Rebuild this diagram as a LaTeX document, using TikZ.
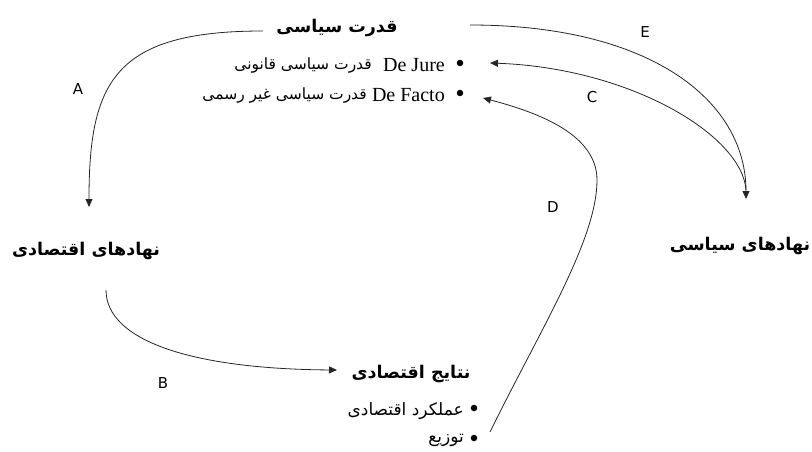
\documentclass[tikz,border=0pt]{standalone}
\usepackage{fontspec}
\setmainfont{Liberation Serif}
\newfontfamily\fa[Script=Arabic]{DejaVu Sans}
\newfontfamily\lab{DejaVu Sans}
\TeXXeTstate=1
\usetikzlibrary{arrows.meta}
\begin{document}
\begin{tikzpicture}[x=1pt,y=-1pt,
  title/.style={inner sep=0pt,font=\fa\bfseries\fontsize{17.5}{20}\selectfont},
  item/.style={inner sep=0pt,anchor=east,font=\fa\fontsize{15.5}{18}\selectfont},
  subitem/.style={inner sep=0pt,anchor=east,font=\fa\fontsize{17}{19}\selectfont},
  latin/.style={inner sep=0pt,font=\fontsize{20}{22}\selectfont},
  dot/.style={circle,fill=black,inner sep=0pt,minimum size=6.5pt},
  letter/.style={inner sep=0pt,font=\lab\fontsize{15}{17}\selectfont},
  arr/.style={draw=black!85,line width=0.8pt,-{Triangle[length=8pt,width=7pt]}},
  conn/.style={draw=black!85,line width=0.8pt}]
\useasboundingbox (0,0) rectangle (812,452);
% main nodes
\node[title] (pow) at (337,28) {\beginR قدرت سیاسی\endR};
\node[title] (econ) at (86,251) {\beginR نهادهای اقتصادی\endR};
\node[title] (pol) at (740,246) {\beginR نهادهای سیاسی\endR};
\node[title] (out) at (411,374) {\beginR نتایج اقتصادی\endR};
% political power items
\node[dot] (jb) at (460,63) {};
\node[latin,anchor=east] (jl) at (445,65) {De Jure};
\node[item] (jt) at (372,66) {\beginR قدرت سیاسی قانونی\endR};
\node[dot] (fb) at (460,93) {};
\node[latin,anchor=east] (fl) at (445,95) {De Facto};
\node[item] (ft) at (367,96) {\beginR قدرت سیاسی غیر رسمی\endR};
% outcome items
\node[dot] (ob1) at (474,408) {};
\node[subitem] (ot1) at (464,411) {\beginR عملکرد اقتصادی\endR};
\node[dot] (ob2) at (474,438) {};
\node[subitem] (ot2) at (464,440) {\beginR توزیع\endR};
% letters
\node[letter] (A) at (78,89) {A};
\node[letter] (B) at (163,383) {B};
\node[letter] (C) at (592,97) {C};
\node[letter] (D) at (553,207) {D};
\node[letter] (E) at (645,32) {E};
% connector ends
\coordinate (aS) at (263,31);
\coordinate (aE) at (89,207);
\coordinate (bS) at (106,290);
\coordinate (bE) at (337,370);
\coordinate (eS) at (470,25);
\coordinate (eE) at (746,199);
\coordinate (cS) at (746,190);
\coordinate (cE) at (490,63);
\coordinate (dS) at (490,432);
\coordinate (dM) at (597,180);
\coordinate (dE) at (483,98);
% connectors
\draw[arr] (aS) .. controls (114,31) and (89,82) .. (aE);
\draw[arr] (bS) .. controls (106,340) and (190,369) .. (bE);
\draw[arr] (eS) .. controls (650,25) and (746,100) .. (eE);
\draw[arr] (cS) .. controls (742,135) and (630,68) .. (cE);
\draw[arr] (dS) .. controls (540,330) and (597,240) .. (dM) .. controls (597,135) and (540,113) .. (dE);
\end{tikzpicture}
\end{document}
